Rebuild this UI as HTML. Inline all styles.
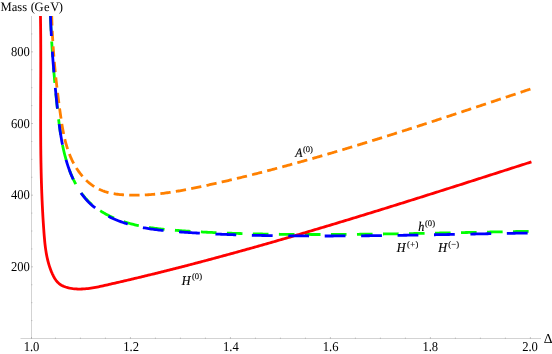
<!DOCTYPE html>
<html><head><meta charset="utf-8"><style>
html,body{margin:0;padding:0;background:#fff;}
svg{display:block;will-change:transform;font-kerning:none;text-rendering:geometricPrecision;font-family:"Liberation Serif",serif;font-size:12.6px;fill:#000;}
</style></head><body>
<svg width="552" height="354" viewBox="0 0 552 354">
<rect width="552" height="354" fill="#fff"/>
<g stroke="#a6a6a6" stroke-width="0.5" fill="none">
<line x1="20.5" y1="338.5" x2="541" y2="338.5"/>
<line x1="31.5" y1="16" x2="31.5" y2="338.5"/>
</g>
<g stroke="#8c8c8c" stroke-width="0.5" fill="none">
<line x1="31.50" y1="338.75" x2="31.50" y2="337.0"/><line x1="55.46" y1="338.75" x2="55.46" y2="337.6"/><line x1="80.45" y1="338.75" x2="80.45" y2="337.6"/><line x1="105.45" y1="338.75" x2="105.45" y2="337.6"/><line x1="130.45" y1="338.75" x2="130.45" y2="337.0"/><line x1="155.44" y1="338.75" x2="155.44" y2="337.6"/><line x1="180.44" y1="338.75" x2="180.44" y2="337.6"/><line x1="205.44" y1="338.75" x2="205.44" y2="337.6"/><line x1="230.44" y1="338.75" x2="230.44" y2="337.0"/><line x1="255.43" y1="338.75" x2="255.43" y2="337.6"/><line x1="280.43" y1="338.75" x2="280.43" y2="337.6"/><line x1="305.43" y1="338.75" x2="305.43" y2="337.6"/><line x1="330.42" y1="338.75" x2="330.42" y2="337.0"/><line x1="355.42" y1="338.75" x2="355.42" y2="337.6"/><line x1="380.42" y1="338.75" x2="380.42" y2="337.6"/><line x1="405.41" y1="338.75" x2="405.41" y2="337.6"/><line x1="430.41" y1="338.75" x2="430.41" y2="337.0"/><line x1="455.41" y1="338.75" x2="455.41" y2="337.6"/><line x1="480.41" y1="338.75" x2="480.41" y2="337.6"/><line x1="505.40" y1="338.75" x2="505.40" y2="337.6"/><line x1="530.40" y1="338.75" x2="530.40" y2="337.0"/><line x1="31.25" y1="320.58" x2="32.4" y2="320.58"/><line x1="31.25" y1="302.67" x2="32.4" y2="302.67"/><line x1="31.25" y1="284.75" x2="32.4" y2="284.75"/><line x1="31.25" y1="266.84" x2="33.0" y2="266.84"/><line x1="31.25" y1="248.93" x2="32.4" y2="248.93"/><line x1="31.25" y1="231.01" x2="32.4" y2="231.01"/><line x1="31.25" y1="213.09" x2="32.4" y2="213.09"/><line x1="31.25" y1="195.18" x2="33.0" y2="195.18"/><line x1="31.25" y1="177.26" x2="32.4" y2="177.26"/><line x1="31.25" y1="159.35" x2="32.4" y2="159.35"/><line x1="31.25" y1="141.44" x2="32.4" y2="141.44"/><line x1="31.25" y1="123.52" x2="33.0" y2="123.52"/><line x1="31.25" y1="105.60" x2="32.4" y2="105.60"/><line x1="31.25" y1="87.69" x2="32.4" y2="87.69"/><line x1="31.25" y1="69.77" x2="32.4" y2="69.77"/><line x1="31.25" y1="51.86" x2="33.0" y2="51.86"/><line x1="31.25" y1="33.94" x2="32.4" y2="33.94"/>
</g>
<clipPath id="pc"><rect x="0" y="16" width="552" height="330"/></clipPath>
<g fill="none" stroke-width="2.8" stroke-linecap="butt" stroke-linejoin="round" clip-path="url(#pc)">
<path d="M50.51,15.98 L50.56,17.27 L50.60,18.56 L50.65,19.86 L50.70,21.15 L50.75,22.45 L50.80,23.74 L50.86,25.03 L50.91,26.32 L50.97,27.61 L51.03,28.91 L51.09,30.20 L51.15,31.49 L51.22,32.78 L51.28,34.07 L51.35,35.35 L51.42,36.64 L51.49,37.93 L51.56,39.22 L51.64,40.51 L51.71,41.79 L51.79,43.08 L51.87,44.37 L51.95,45.65 L52.03,46.94 L52.11,48.23 L52.20,49.51 L52.28,50.80 L52.37,52.08 L52.46,53.37 L52.55,54.65 L52.64,55.94 L52.73,57.22 L52.83,58.50 L52.92,59.79 L53.02,61.07 L53.12,62.35 L53.21,63.64 L53.32,64.92 L53.42,66.20 L53.52,67.48 L53.62,68.76 L53.73,70.05 L53.84,71.33 L53.95,72.61 L54.05,73.89 L54.16,75.17 L54.28,76.45 L54.39,77.73 L54.50,79.02 L54.62,80.30 L54.73,81.58 L54.85,82.86 L54.97,84.14 L55.09,85.42 L55.21,86.70 L55.33,87.98 L55.45,89.26 L55.57,90.54 L55.70,91.82 L55.82,93.10 L55.95,94.38 L56.08,95.66 L56.21,96.94 L56.33,98.22 L56.46,99.50 L56.59,100.78 L56.73,102.06 L56.86,103.34 L56.99,104.62 L57.13,105.90 L57.26,107.18 L57.40,108.46 L57.53,109.74 L57.67,111.02 L57.81,112.30 L57.95,113.58 L58.09,114.86 L58.24,116.14 L58.38,117.42 L58.53,118.70 L58.68,119.98 L58.84,121.26 L58.99,122.54 L59.15,123.82 L59.32,125.09 L59.49,126.37 L59.66,127.65 L59.83,128.93 L60.02,130.20 L60.20,131.48 L60.39,132.75 L60.59,134.03 L60.79,135.30 L60.99,136.57 L61.21,137.85 L61.43,139.12 L61.65,140.39 L61.88,141.66 L62.12,142.93 L62.37,144.19 L62.62,145.45 L62.88,146.71 L63.15,147.96 L63.42,149.22 L63.71,150.47 L64.00,151.73 L64.30,152.98 L64.61,154.23 L64.93,155.48 L65.26,156.73 L65.59,157.98 L65.94,159.22 L66.30,160.46 L66.67,161.71 L67.04,162.95 L67.43,164.18 L67.83,165.42 L68.24,166.65 L68.67,167.87 L69.10,169.09 L69.55,170.31 L70.00,171.52 L70.47,172.72 L70.96,173.92 L71.45,175.12 L71.96,176.30 L72.48,177.48 L73.02,178.65 L73.56,179.81 L74.13,180.96 L74.70,182.11 L75.29,183.24 L75.90,184.37 L76.52,185.48 L77.15,186.58 L77.80,187.67 L78.47,188.75 L79.15,189.82 L79.84,190.88 L80.56,191.92 L81.28,192.95 L82.03,193.96 L82.79,194.96 L83.57,195.95 L84.37,196.92 L85.18,197.88 L86.01,198.82 L86.86,199.74 L87.73,200.65 L88.61,201.54 L89.52,202.41 L90.44,203.26 L91.37,204.10 L92.33,204.92 L93.29,205.73 L94.28,206.52 L95.28,207.29 L96.29,208.05 L97.32,208.79 L98.36,209.52 L99.41,210.23 L100.48,210.92 L101.56,211.60 L102.65,212.26 L103.75,212.91 L104.86,213.54 L105.98,214.16 L107.11,214.76 L108.25,215.35 L109.40,215.92 L110.55,216.48 L111.72,217.02 L112.89,217.55 L114.06,218.06 L115.25,218.56 L116.44,219.05 L117.63,219.52 L118.83,219.98 L120.03,220.42 L121.24,220.85 L122.45,221.27 L123.67,221.68 L124.89,222.07 L126.12,222.45 L127.34,222.81 L128.58,223.17 L129.81,223.51 L131.05,223.85 L132.29,224.17 L133.54,224.48 L134.79,224.78 L136.04,225.07 L137.30,225.35 L138.56,225.62 L139.82,225.88 L141.08,226.13 L142.35,226.37 L143.62,226.60 L144.89,226.83 L146.16,227.04 L147.44,227.25 L148.72,227.45 L150.00,227.65 L151.28,227.83 L152.56,228.01 L153.85,228.18 L155.14,228.35 L156.42,228.51 L157.71,228.66 L159.01,228.81 L160.30,228.95 L161.59,229.09 L162.89,229.22 L164.18,229.35 L165.48,229.47 L166.77,229.59 L168.07,229.70 L169.37,229.81 L170.67,229.92 L171.96,230.03 L173.26,230.13 L174.56,230.23 L175.86,230.33 L177.16,230.42 L178.45,230.51 L179.75,230.61 L181.05,230.70 L182.34,230.79 L183.64,230.87 L184.93,230.96 L186.23,231.04 L187.52,231.13 L188.82,231.21 L190.11,231.29 L191.40,231.37 L192.70,231.45 L193.99,231.53 L195.28,231.60 L196.57,231.68 L197.86,231.75 L199.16,231.82 L200.45,231.89 L201.74,231.96 L203.03,232.03 L204.32,232.09 L205.61,232.16 L206.89,232.23 L208.18,232.29 L209.47,232.35 L210.76,232.41 L212.05,232.47 L213.34,232.53 L214.62,232.59 L215.91,232.64 L217.20,232.70 L218.48,232.75 L219.77,232.81 L221.06,232.86 L222.34,232.91 L223.63,232.96 L224.91,233.01 L226.20,233.06 L227.48,233.10 L228.77,233.15 L230.05,233.19 L231.34,233.24 L232.62,233.28 L233.91,233.32 L235.19,233.36 L236.48,233.40 L237.76,233.44 L239.04,233.48 L240.33,233.52 L241.61,233.55 L242.90,233.59 L244.18,233.62 L245.46,233.66 L246.75,233.69 L248.03,233.72 L249.31,233.75 L250.60,233.78 L251.88,233.81 L253.16,233.84 L254.45,233.87 L255.73,233.90 L257.01,233.92 L258.30,233.95 L259.58,233.97 L260.86,234.00 L262.15,234.02 L263.43,234.04 L264.71,234.07 L266.00,234.09 L267.28,234.11 L268.56,234.13 L269.85,234.15 L271.13,234.17 L272.41,234.18 L273.70,234.20 L274.98,234.22 L276.27,234.24 L277.55,234.25 L278.83,234.27 L280.12,234.28 L281.40,234.29 L282.69,234.31 L283.97,234.32 L285.26,234.33 L286.54,234.35 L287.83,234.36 L289.11,234.37 L290.40,234.38 L291.69,234.39 L292.97,234.40 L294.26,234.41 L295.54,234.41 L296.83,234.42 L298.12,234.43 L299.40,234.44 L300.69,234.44 L301.98,234.45 L303.26,234.45 L304.55,234.46 L305.84,234.46 L307.13,234.47 L308.41,234.47 L309.70,234.47 L310.99,234.48 L312.28,234.48 L313.56,234.48 L314.85,234.48 L316.14,234.48 L317.43,234.48 L318.72,234.48 L320.01,234.48 L321.29,234.48 L322.58,234.48 L323.87,234.48 L325.16,234.47 L326.45,234.47 L327.74,234.47 L329.03,234.46 L330.32,234.46 L331.61,234.46 L332.89,234.45 L334.18,234.45 L335.47,234.44 L336.76,234.43 L338.05,234.43 L339.34,234.42 L340.63,234.41 L341.92,234.41 L343.21,234.40 L344.50,234.39 L345.79,234.38 L347.08,234.37 L348.37,234.36 L349.66,234.35 L350.95,234.34 L352.24,234.33 L353.53,234.32 L354.82,234.31 L356.11,234.30 L357.41,234.29 L358.70,234.28 L359.99,234.26 L361.28,234.25 L362.57,234.24 L363.86,234.23 L365.15,234.21 L366.44,234.20 L367.73,234.18 L369.02,234.17 L370.31,234.15 L371.60,234.14 L372.90,234.12 L374.19,234.11 L375.48,234.09 L376.77,234.08 L378.06,234.06 L379.35,234.04 L380.64,234.03 L381.93,234.01 L383.23,233.99 L384.52,233.97 L385.81,233.96 L387.10,233.94 L388.39,233.92 L389.68,233.90 L390.97,233.88 L392.27,233.86 L393.56,233.84 L394.85,233.82 L396.14,233.80 L397.43,233.78 L398.72,233.76 L400.01,233.74 L401.31,233.72 L402.60,233.70 L403.89,233.68 L405.18,233.66 L406.47,233.64 L407.76,233.61 L409.05,233.59 L410.35,233.57 L411.64,233.55 L412.93,233.53 L414.22,233.50 L415.51,233.48 L416.80,233.46 L418.09,233.44 L419.38,233.41 L420.68,233.39 L421.97,233.37 L423.26,233.34 L424.55,233.32 L425.84,233.29 L427.13,233.27 L428.42,233.25 L429.71,233.22 L431.00,233.20 L432.30,233.17 L433.59,233.15 L434.88,233.12 L436.17,233.10 L437.46,233.07 L438.75,233.05 L440.04,233.02 L441.33,233.00 L442.62,232.97 L443.91,232.95 L445.20,232.92 L446.49,232.90 L447.78,232.87 L449.07,232.85 L450.36,232.82 L451.65,232.80 L452.94,232.77 L454.23,232.74 L455.52,232.72 L456.81,232.69 L458.10,232.67 L459.39,232.64 L460.68,232.61 L461.97,232.59 L463.26,232.56 L464.55,232.54 L465.84,232.51 L467.13,232.48 L468.42,232.46 L469.71,232.43 L471.00,232.41 L472.28,232.38 L473.57,232.35 L474.86,232.33 L476.15,232.30 L477.44,232.28 L478.73,232.25 L480.02,232.22 L481.30,232.20 L482.59,232.17 L483.88,232.15 L485.17,232.12 L486.46,232.10 L487.74,232.07 L489.03,232.04 L490.32,232.02 L491.61,231.99 L492.89,231.97 L494.18,231.94 L495.47,231.92 L496.75,231.89 L498.04,231.87 L499.33,231.84 L500.61,231.82 L501.90,231.79 L503.19,231.77 L504.47,231.74 L505.76,231.72 L507.04,231.69 L508.33,231.67 L509.62,231.64 L510.90,231.62 L512.19,231.60 L513.47,231.57 L514.76,231.55 L516.04,231.52 L517.33,231.50 L518.61,231.48 L519.89,231.45 L521.18,231.43 L522.46,231.41 L523.75,231.38 L525.03,231.36 L526.31,231.34 L527.60,231.32 L528.88,231.30 L530.16,231.27 L531.45,231.25" stroke="#00ff00" stroke-dasharray="15.6 10.42" stroke-dashoffset="0.5"/>
<path d="M51.74,15.92 L51.77,17.22 L51.80,18.51 L51.84,19.80 L51.88,21.09 L51.92,22.38 L51.97,23.67 L52.01,24.95 L52.06,26.24 L52.12,27.52 L52.17,28.80 L52.22,30.08 L52.28,31.36 L52.34,32.64 L52.41,33.91 L52.47,35.19 L52.54,36.46 L52.61,37.74 L52.68,39.01 L52.75,40.28 L52.83,41.55 L52.90,42.82 L52.98,44.09 L53.07,45.36 L53.15,46.62 L53.24,47.89 L53.32,49.16 L53.42,50.42 L53.51,51.68 L53.60,52.95 L53.70,54.21 L53.80,55.47 L53.90,56.73 L54.00,57.99 L54.10,59.26 L54.21,60.52 L54.32,61.78 L54.43,63.03 L54.54,64.29 L54.66,65.55 L54.77,66.81 L54.89,68.07 L55.01,69.33 L55.13,70.58 L55.26,71.84 L55.38,73.10 L55.51,74.36 L55.64,75.61 L55.77,76.87 L55.90,78.13 L56.03,79.39 L56.17,80.64 L56.31,81.90 L56.45,83.16 L56.59,84.42 L56.73,85.68 L56.88,86.93 L57.03,88.19 L57.17,89.45 L57.32,90.71 L57.48,91.97 L57.63,93.23 L57.78,94.49 L57.94,95.75 L58.10,97.01 L58.26,98.28 L58.42,99.54 L58.58,100.80 L58.75,102.06 L58.91,103.33 L59.08,104.59 L59.25,105.86 L59.42,107.13 L59.59,108.39 L59.77,109.66 L59.94,110.93 L60.12,112.20 L60.30,113.47 L60.48,114.75 L60.66,116.02 L60.84,117.29 L61.03,118.57 L61.22,119.84 L61.41,121.11 L61.61,122.39 L61.81,123.66 L62.01,124.93 L62.23,126.20 L62.44,127.47 L62.67,128.74 L62.90,130.01 L63.14,131.27 L63.38,132.53 L63.63,133.79 L63.90,135.05 L64.17,136.30 L64.45,137.55 L64.74,138.80 L65.04,140.05 L65.35,141.29 L65.67,142.52 L66.00,143.75 L66.35,144.98 L66.71,146.20 L67.08,147.42 L67.46,148.63 L67.86,149.84 L68.27,151.04 L68.70,152.24 L69.14,153.43 L69.60,154.61 L70.08,155.78 L70.57,156.95 L71.08,158.12 L71.60,159.27 L72.14,160.42 L72.71,161.56 L73.29,162.69 L73.89,163.81 L74.50,164.93 L75.14,166.03 L75.80,167.12 L76.47,168.21 L77.17,169.28 L77.88,170.34 L78.61,171.38 L79.36,172.41 L80.13,173.43 L80.92,174.42 L81.73,175.41 L82.55,176.37 L83.39,177.32 L84.25,178.24 L85.12,179.15 L86.02,180.04 L86.93,180.90 L87.86,181.75 L88.81,182.57 L89.77,183.36 L90.75,184.13 L91.75,184.88 L92.76,185.60 L93.79,186.29 L94.84,186.95 L95.90,187.59 L96.98,188.20 L98.08,188.77 L99.19,189.32 L100.32,189.83 L101.46,190.31 L102.62,190.77 L103.79,191.19 L104.98,191.59 L106.18,191.96 L107.38,192.30 L108.60,192.62 L109.83,192.92 L111.07,193.19 L112.32,193.44 L113.57,193.67 L114.84,193.88 L116.11,194.07 L117.38,194.24 L118.66,194.39 L119.94,194.53 L121.23,194.65 L122.52,194.75 L123.81,194.85 L125.11,194.93 L126.40,194.99 L127.70,195.05 L128.99,195.09 L130.28,195.13 L131.58,195.16 L132.87,195.17 L134.15,195.18 L135.44,195.18 L136.73,195.18 L138.01,195.16 L139.29,195.13 L140.57,195.10 L141.85,195.06 L143.13,195.01 L144.41,194.95 L145.69,194.89 L146.96,194.82 L148.23,194.74 L149.51,194.65 L150.78,194.56 L152.05,194.46 L153.32,194.35 L154.59,194.24 L155.85,194.12 L157.12,193.99 L158.39,193.86 L159.65,193.72 L160.91,193.57 L162.18,193.42 L163.44,193.27 L164.70,193.10 L165.96,192.94 L167.22,192.76 L168.47,192.59 L169.73,192.40 L170.99,192.22 L172.24,192.02 L173.50,191.83 L174.75,191.62 L176.01,191.42 L177.26,191.21 L178.51,191.00 L179.76,190.78 L181.01,190.56 L182.26,190.33 L183.51,190.10 L184.76,189.87 L186.01,189.64 L187.26,189.40 L188.51,189.16 L189.75,188.91 L191.00,188.67 L192.25,188.42 L193.49,188.17 L194.74,187.91 L195.98,187.66 L197.23,187.40 L198.47,187.14 L199.72,186.88 L200.96,186.62 L202.21,186.35 L203.45,186.09 L204.70,185.82 L205.94,185.55 L207.18,185.28 L208.42,185.01 L209.67,184.74 L210.91,184.47 L212.15,184.19 L213.39,183.92 L214.64,183.64 L215.88,183.36 L217.12,183.09 L218.36,182.80 L219.60,182.52 L220.84,182.24 L222.08,181.96 L223.32,181.67 L224.56,181.38 L225.80,181.10 L227.04,180.81 L228.28,180.52 L229.52,180.23 L230.76,179.94 L232.00,179.64 L233.24,179.35 L234.48,179.05 L235.71,178.76 L236.95,178.46 L238.19,178.16 L239.43,177.86 L240.66,177.56 L241.90,177.26 L243.14,176.96 L244.37,176.65 L245.61,176.35 L246.85,176.04 L248.08,175.73 L249.32,175.43 L250.55,175.12 L251.79,174.81 L253.02,174.50 L254.26,174.19 L255.49,173.88 L256.73,173.56 L257.96,173.25 L259.19,172.93 L260.43,172.62 L261.66,172.30 L262.89,171.98 L264.13,171.66 L265.36,171.35 L266.59,171.03 L267.82,170.70 L269.05,170.38 L270.29,170.06 L271.52,169.74 L272.75,169.41 L273.98,169.09 L275.21,168.76 L276.44,168.44 L277.67,168.11 L278.90,167.78 L280.13,167.45 L281.36,167.12 L282.59,166.79 L283.82,166.46 L285.05,166.13 L286.27,165.79 L287.50,165.46 L288.73,165.13 L289.96,164.79 L291.19,164.45 L292.41,164.12 L293.64,163.78 L294.87,163.44 L296.10,163.10 L297.32,162.76 L298.55,162.42 L299.77,162.08 L301.00,161.74 L302.23,161.40 L303.45,161.05 L304.68,160.71 L305.90,160.37 L307.13,160.02 L308.35,159.67 L309.58,159.33 L310.80,158.98 L312.03,158.63 L313.25,158.28 L314.47,157.93 L315.70,157.58 L316.92,157.23 L318.14,156.88 L319.37,156.53 L320.59,156.18 L321.81,155.82 L323.03,155.47 L324.26,155.11 L325.48,154.76 L326.70,154.40 L327.92,154.05 L329.14,153.69 L330.37,153.33 L331.59,152.97 L332.81,152.61 L334.03,152.25 L335.25,151.89 L336.47,151.53 L337.69,151.17 L338.91,150.81 L340.13,150.45 L341.35,150.08 L342.57,149.72 L343.79,149.36 L345.01,148.99 L346.23,148.63 L347.45,148.26 L348.67,147.89 L349.89,147.53 L351.10,147.16 L352.32,146.79 L353.54,146.42 L354.76,146.05 L355.98,145.68 L357.19,145.31 L358.41,144.94 L359.63,144.57 L360.85,144.20 L362.06,143.82 L363.28,143.45 L364.50,143.08 L365.71,142.70 L366.93,142.33 L368.15,141.96 L369.36,141.58 L370.58,141.20 L371.80,140.83 L373.01,140.45 L374.23,140.07 L375.44,139.70 L376.66,139.32 L377.87,138.94 L379.09,138.56 L380.30,138.18 L381.52,137.80 L382.73,137.42 L383.95,137.04 L385.16,136.66 L386.38,136.28 L387.59,135.90 L388.81,135.51 L390.02,135.13 L391.23,134.75 L392.45,134.36 L393.66,133.98 L394.87,133.59 L396.09,133.21 L397.30,132.82 L398.51,132.44 L399.73,132.05 L400.94,131.67 L402.15,131.28 L403.37,130.89 L404.58,130.51 L405.79,130.12 L407.00,129.73 L408.22,129.34 L409.43,128.95 L410.64,128.56 L411.85,128.17 L413.06,127.78 L414.28,127.39 L415.49,127.00 L416.70,126.61 L417.91,126.22 L419.12,125.83 L420.33,125.44 L421.54,125.05 L422.76,124.65 L423.97,124.26 L425.18,123.87 L426.39,123.48 L427.60,123.08 L428.81,122.69 L430.02,122.29 L431.23,121.90 L432.44,121.51 L433.65,121.11 L434.86,120.72 L436.07,120.32 L437.28,119.93 L438.49,119.53 L439.70,119.13 L440.91,118.74 L442.12,118.34 L443.33,117.94 L444.54,117.55 L445.75,117.15 L446.96,116.75 L448.17,116.36 L449.38,115.96 L450.59,115.56 L451.80,115.16 L453.01,114.76 L454.22,114.37 L455.42,113.97 L456.63,113.57 L457.84,113.17 L459.05,112.77 L460.26,112.37 L461.47,111.97 L462.68,111.57 L463.89,111.17 L465.09,110.77 L466.30,110.37 L467.51,109.97 L468.72,109.57 L469.93,109.17 L471.14,108.77 L472.34,108.37 L473.55,107.97 L474.76,107.57 L475.97,107.17 L477.18,106.77 L478.38,106.37 L479.59,105.97 L480.80,105.56 L482.01,105.16 L483.22,104.76 L484.42,104.36 L485.63,103.96 L486.84,103.56 L488.05,103.15 L489.26,102.75 L490.46,102.35 L491.67,101.95 L492.88,101.55 L494.09,101.14 L495.29,100.74 L496.50,100.34 L497.71,99.94 L498.92,99.54 L500.12,99.13 L501.33,98.73 L502.54,98.33 L503.75,97.93 L504.95,97.53 L506.16,97.12 L507.37,96.72 L508.58,96.32 L509.78,95.92 L510.99,95.51 L512.20,95.11 L513.40,94.71 L514.61,94.31 L515.82,93.91 L517.03,93.50 L518.23,93.10 L519.44,92.70 L520.65,92.30 L521.86,91.90 L523.06,91.49 L524.27,91.09 L525.48,90.69 L526.68,90.29 L527.89,89.89 L529.10,89.49 L530.31,89.09 L531.51,88.68" stroke="#ff8000" stroke-dasharray="10.35 5.26" stroke-dashoffset="0.8"/>
<path d="M40.43,13.98 L40.46,15.52 L40.48,17.06 L40.51,18.59 L40.53,20.13 L40.55,21.66 L40.57,23.20 L40.59,24.73 L40.61,26.27 L40.63,27.80 L40.64,29.34 L40.66,30.87 L40.67,32.40 L40.68,33.94 L40.70,35.47 L40.71,37.01 L40.72,38.54 L40.73,40.07 L40.73,41.61 L40.74,43.14 L40.75,44.68 L40.75,46.21 L40.76,47.74 L40.76,49.28 L40.77,50.81 L40.77,52.34 L40.77,53.87 L40.77,55.41 L40.78,56.94 L40.78,58.47 L40.78,60.01 L40.78,61.54 L40.77,63.07 L40.77,64.60 L40.77,66.14 L40.77,67.67 L40.77,69.20 L40.76,70.73 L40.76,72.26 L40.76,73.80 L40.75,75.33 L40.75,76.86 L40.74,78.39 L40.74,79.92 L40.73,81.46 L40.73,82.99 L40.72,84.52 L40.72,86.05 L40.71,87.58 L40.71,89.11 L40.70,90.65 L40.70,92.18 L40.69,93.71 L40.69,95.24 L40.68,96.77 L40.68,98.30 L40.68,99.83 L40.67,101.36 L40.67,102.90 L40.66,104.43 L40.66,105.96 L40.66,107.49 L40.65,109.02 L40.65,110.55 L40.65,112.08 L40.65,113.61 L40.65,115.14 L40.65,116.68 L40.64,118.21 L40.64,119.74 L40.65,121.27 L40.65,122.80 L40.65,124.33 L40.65,125.86 L40.65,127.39 L40.66,128.92 L40.66,130.45 L40.67,131.98 L40.67,133.51 L40.68,135.05 L40.69,136.58 L40.70,138.11 L40.71,139.64 L40.72,141.17 L40.73,142.70 L40.74,144.23 L40.75,145.76 L40.77,147.29 L40.78,148.82 L40.80,150.35 L40.82,151.88 L40.83,153.41 L40.85,154.95 L40.88,156.48 L40.90,158.01 L40.92,159.54 L40.94,161.07 L40.97,162.60 L41.00,164.13 L41.03,165.66 L41.06,167.19 L41.09,168.73 L41.12,170.26 L41.15,171.79 L41.19,173.32 L41.23,174.85 L41.26,176.38 L41.30,177.91 L41.35,179.44 L41.39,180.98 L41.43,182.51 L41.48,184.04 L41.53,185.57 L41.58,187.10 L41.63,188.63 L41.68,190.17 L41.74,191.70 L41.80,193.23 L41.86,194.76 L41.92,196.29 L41.98,197.83 L42.04,199.36 L42.11,200.89 L42.18,202.42 L42.25,203.95 L42.32,205.49 L42.40,207.02 L42.47,208.55 L42.55,210.08 L42.64,211.62 L42.72,213.15 L42.80,214.68 L42.89,216.22 L42.98,217.75 L43.07,219.28 L43.17,220.81 L43.27,222.35 L43.37,223.88 L43.47,225.41 L43.57,226.95 L43.68,228.48 L43.79,230.02 L43.90,231.55 L44.01,233.08 L44.13,234.62 L44.25,236.15 L44.38,237.68 L44.52,239.21 L44.66,240.75 L44.81,242.27 L44.97,243.80 L45.15,245.33 L45.33,246.85 L45.53,248.37 L45.75,249.89 L45.98,251.40 L46.23,252.91 L46.50,254.42 L46.79,255.93 L47.10,257.43 L47.43,258.92 L47.78,260.41 L48.16,261.89 L48.57,263.37 L49.00,264.85 L49.46,266.32 L49.95,267.78 L50.47,269.23 L51.02,270.68 L51.60,272.12 L52.22,273.56 L52.87,274.98 L53.57,276.38 L54.32,277.74 L55.13,279.05 L55.99,280.30 L56.93,281.48 L57.94,282.57 L59.03,283.56 L60.20,284.44 L61.46,285.22 L62.77,285.91 L64.15,286.50 L65.56,287.02 L67.01,287.46 L68.48,287.84 L69.96,288.16 L71.44,288.43 L72.92,288.65 L74.41,288.82 L75.90,288.94 L77.40,289.02 L78.90,289.06 L80.40,289.06 L81.90,289.02 L83.41,288.95 L84.92,288.84 L86.43,288.70 L87.94,288.54 L89.45,288.35 L90.97,288.13 L92.48,287.89 L94.00,287.63 L95.51,287.35 L97.03,287.06 L98.55,286.76 L100.07,286.44 L101.59,286.11 L103.10,285.78 L104.62,285.44 L106.14,285.10 L107.65,284.76 L109.16,284.42 L110.68,284.07 L112.19,283.73 L113.70,283.38 L115.21,283.04 L116.72,282.69 L118.23,282.34 L119.74,282.00 L121.24,281.65 L122.75,281.30 L124.26,280.95 L125.76,280.59 L127.26,280.24 L128.77,279.89 L130.27,279.54 L131.77,279.18 L133.27,278.83 L134.77,278.47 L136.27,278.11 L137.77,277.75 L139.27,277.40 L140.76,277.04 L142.26,276.68 L143.75,276.32 L145.25,275.95 L146.74,275.59 L148.24,275.23 L149.73,274.86 L151.22,274.50 L152.71,274.13 L154.20,273.77 L155.69,273.40 L157.18,273.03 L158.67,272.66 L160.16,272.29 L161.65,271.92 L163.14,271.55 L164.62,271.18 L166.11,270.81 L167.60,270.44 L169.08,270.06 L170.57,269.69 L172.05,269.31 L173.53,268.94 L175.02,268.56 L176.50,268.18 L177.98,267.80 L179.46,267.42 L180.95,267.04 L182.43,266.66 L183.91,266.28 L185.39,265.90 L186.87,265.52 L188.35,265.13 L189.83,264.75 L191.30,264.37 L192.78,263.98 L194.26,263.59 L195.74,263.21 L197.22,262.82 L198.69,262.43 L200.17,262.04 L201.65,261.65 L203.12,261.26 L204.60,260.87 L206.07,260.48 L207.55,260.08 L209.02,259.69 L210.50,259.30 L211.97,258.90 L213.45,258.51 L214.92,258.11 L216.40,257.71 L217.87,257.32 L219.34,256.92 L220.82,256.52 L222.29,256.12 L223.76,255.72 L225.24,255.32 L226.71,254.92 L228.18,254.51 L229.66,254.11 L231.13,253.71 L232.60,253.30 L234.08,252.90 L235.55,252.49 L237.02,252.09 L238.49,251.68 L239.97,251.27 L241.44,250.86 L242.91,250.46 L244.38,250.05 L245.86,249.64 L247.33,249.22 L248.80,248.81 L250.27,248.40 L251.74,247.99 L253.22,247.58 L254.69,247.16 L256.16,246.75 L257.63,246.33 L259.10,245.92 L260.58,245.50 L262.05,245.08 L263.52,244.66 L264.99,244.25 L266.46,243.83 L267.93,243.41 L269.41,242.99 L270.88,242.57 L272.35,242.15 L273.82,241.72 L275.29,241.30 L276.76,240.88 L278.23,240.46 L279.71,240.03 L281.18,239.61 L282.65,239.18 L284.12,238.76 L285.59,238.33 L287.06,237.90 L288.53,237.48 L290.00,237.05 L291.47,236.62 L292.94,236.19 L294.41,235.76 L295.88,235.33 L297.35,234.90 L298.83,234.47 L300.30,234.04 L301.77,233.61 L303.24,233.17 L304.71,232.74 L306.18,232.31 L307.65,231.87 L309.12,231.44 L310.59,231.01 L312.06,230.57 L313.53,230.13 L314.99,229.70 L316.46,229.26 L317.93,228.82 L319.40,228.39 L320.87,227.95 L322.34,227.51 L323.81,227.07 L325.28,226.63 L326.75,226.19 L328.22,225.75 L329.69,225.31 L331.16,224.87 L332.62,224.43 L334.09,223.98 L335.56,223.54 L337.03,223.10 L338.50,222.65 L339.97,222.21 L341.44,221.77 L342.90,221.32 L344.37,220.88 L345.84,220.43 L347.31,219.99 L348.78,219.54 L350.24,219.09 L351.71,218.65 L353.18,218.20 L354.65,217.75 L356.11,217.30 L357.58,216.85 L359.05,216.40 L360.52,215.96 L361.98,215.51 L363.45,215.06 L364.92,214.61 L366.38,214.15 L367.85,213.70 L369.32,213.25 L370.78,212.80 L372.25,212.35 L373.72,211.90 L375.18,211.44 L376.65,210.99 L378.11,210.54 L379.58,210.08 L381.05,209.63 L382.51,209.18 L383.98,208.72 L385.44,208.27 L386.91,207.81 L388.37,207.36 L389.84,206.90 L391.30,206.44 L392.77,205.99 L394.23,205.53 L395.70,205.07 L397.16,204.62 L398.63,204.16 L400.09,203.70 L401.56,203.24 L403.02,202.79 L404.49,202.33 L405.95,201.87 L407.42,201.41 L408.88,200.95 L410.34,200.49 L411.81,200.03 L413.27,199.57 L414.73,199.11 L416.20,198.65 L417.66,198.19 L419.12,197.73 L420.59,197.27 L422.05,196.81 L423.51,196.35 L424.98,195.88 L426.44,195.42 L427.90,194.96 L429.36,194.50 L430.83,194.03 L432.29,193.57 L433.75,193.11 L435.21,192.65 L436.68,192.18 L438.14,191.72 L439.60,191.26 L441.06,190.79 L442.52,190.33 L443.98,189.86 L445.44,189.40 L446.91,188.94 L448.37,188.47 L449.83,188.01 L451.29,187.54 L452.75,187.08 L454.21,186.61 L455.67,186.15 L457.13,185.68 L458.59,185.22 L460.05,184.75 L461.51,184.29 L462.97,183.82 L464.43,183.35 L465.89,182.89 L467.35,182.42 L468.81,181.96 L470.27,181.49 L471.73,181.02 L473.18,180.56 L474.64,180.09 L476.10,179.62 L477.56,179.16 L479.02,178.69 L480.48,178.22 L481.94,177.76 L483.39,177.29 L484.85,176.82 L486.31,176.36 L487.77,175.89 L489.22,175.42 L490.68,174.96 L492.14,174.49 L493.60,174.02 L495.05,173.55 L496.51,173.09 L497.97,172.62 L499.42,172.15 L500.88,171.68 L502.34,171.22 L503.79,170.75 L505.25,170.28 L506.70,169.81 L508.16,169.35 L509.61,168.88 L511.07,168.41 L512.53,167.94 L513.98,167.48 L515.44,167.01 L516.89,166.54 L518.34,166.08 L519.80,165.61 L521.25,165.14 L522.71,164.67 L524.16,164.21 L525.62,163.74 L527.07,163.27 L528.52,162.81 L529.98,162.34 L531.43,161.87" stroke="#ff0000"/>
<path d="M50.51,15.98 L50.56,17.27 L50.60,18.56 L50.65,19.86 L50.70,21.15 L50.75,22.45 L50.80,23.74 L50.86,25.03 L50.91,26.32 L50.97,27.61 L51.03,28.91 L51.09,30.20 L51.15,31.49 L51.22,32.78 L51.28,34.07 L51.35,35.35 L51.42,36.64 L51.49,37.93 L51.56,39.22 L51.64,40.51 L51.71,41.79 L51.79,43.08 L51.87,44.37 L51.95,45.65 L52.03,46.94 L52.11,48.23 L52.20,49.51 L52.28,50.80 L52.37,52.08 L52.46,53.37 L52.55,54.65 L52.64,55.94 L52.73,57.22 L52.83,58.50 L52.92,59.79 L53.02,61.07 L53.12,62.35 L53.21,63.64 L53.32,64.92 L53.42,66.20 L53.52,67.48 L53.62,68.76 L53.73,70.05 L53.84,71.33 L53.95,72.61 L54.05,73.89 L54.16,75.17 L54.28,76.45 L54.39,77.73 L54.50,79.02 L54.62,80.30 L54.73,81.58 L54.85,82.86 L54.97,84.14 L55.09,85.42 L55.21,86.70 L55.33,87.98 L55.45,89.26 L55.57,90.54 L55.70,91.82 L55.82,93.10 L55.95,94.38 L56.08,95.66 L56.21,96.94 L56.33,98.22 L56.46,99.50 L56.59,100.78 L56.73,102.06 L56.86,103.34 L56.99,104.62 L57.13,105.90 L57.26,107.18 L57.40,108.46 L57.53,109.74 L57.67,111.02 L57.81,112.30 L57.95,113.58 L58.09,114.86 L58.24,116.14 L58.38,117.42 L58.53,118.70 L58.68,119.98 L58.84,121.26 L58.99,122.54 L59.15,123.82 L59.32,125.09 L59.49,126.37 L59.66,127.65 L59.83,128.93 L60.02,130.20 L60.20,131.48 L60.39,132.75 L60.59,134.03 L60.79,135.30 L60.99,136.57 L61.21,137.85 L61.43,139.12 L61.65,140.39 L61.88,141.66 L62.12,142.93 L62.37,144.20 L62.62,145.46 L62.88,146.73 L63.15,148.00 L63.42,149.26 L63.71,150.52 L64.00,151.79 L64.30,153.05 L64.61,154.31 L64.93,155.57 L65.26,156.82 L65.59,158.08 L65.94,159.33 L66.30,160.59 L66.67,161.84 L67.04,163.09 L67.43,164.34 L67.83,165.58 L68.24,166.82 L68.67,168.06 L69.10,169.29 L69.55,170.52 L70.00,171.74 L70.47,172.96 L70.96,174.17 L71.45,175.37 L71.96,176.57 L72.48,177.76 L73.02,178.94 L73.56,180.12 L74.13,181.28 L74.70,182.44 L75.29,183.59 L75.90,184.72 L76.52,185.85 L77.15,186.97 L77.80,188.07 L78.47,189.17 L79.15,190.25 L79.84,191.32 L80.56,192.37 L81.28,193.42 L82.03,194.45 L82.79,195.46 L83.57,196.46 L84.37,197.45 L85.18,198.42 L86.01,199.37 L86.86,200.31 L87.73,201.23 L88.61,202.14 L89.52,203.03 L90.44,203.90 L91.37,204.75 L92.33,205.59 L93.29,206.41 L94.28,207.21 L95.28,208.00 L96.29,208.77 L97.32,209.53 L98.36,210.27 L99.41,210.99 L100.48,211.70 L101.56,212.39 L102.65,213.07 L103.75,213.73 L104.86,214.38 L105.98,215.01 L107.11,215.62 L108.25,216.22 L109.40,216.81 L110.55,217.38 L111.72,217.93 L112.89,218.47 L114.06,219.00 L115.25,219.51 L116.44,220.01 L117.63,220.49 L118.83,220.96 L120.03,221.41 L121.24,221.86 L122.45,222.28 L123.67,222.70 L124.89,223.10 L126.12,223.49 L127.34,223.87 L128.58,224.23 L129.81,224.58 L131.05,224.93 L132.29,225.26 L133.54,225.57 L134.79,225.88 L136.04,226.18 L137.30,226.47 L138.56,226.75 L139.82,227.01 L141.08,227.27 L142.35,227.52 L143.62,227.76 L144.89,227.99 L146.16,228.22 L147.44,228.43 L148.72,228.64 L150.00,228.84 L151.28,229.03 L152.56,229.21 L153.85,229.39 L155.14,229.56 L156.42,229.73 L157.71,229.89 L159.01,230.04 L160.30,230.19 L161.59,230.33 L162.89,230.47 L164.18,230.60 L165.48,230.73 L166.77,230.85 L168.07,230.97 L169.37,231.09 L170.67,231.20 L171.96,231.31 L173.26,231.41 L174.56,231.52 L175.86,231.62 L177.16,231.72 L178.45,231.82 L179.75,231.91 L181.05,232.01 L182.34,232.10 L183.64,232.19 L184.93,232.28 L186.23,232.37 L187.52,232.45 L188.82,232.54 L190.11,232.62 L191.40,232.71 L192.70,232.79 L193.99,232.87 L195.28,232.95 L196.57,233.02 L197.86,233.10 L199.16,233.18 L200.45,233.25 L201.74,233.32 L203.03,233.39 L204.32,233.46 L205.61,233.53 L206.89,233.60 L208.18,233.66 L209.47,233.73 L210.76,233.79 L212.05,233.85 L213.34,233.91 L214.62,233.97 L215.91,234.03 L217.20,234.09 L218.48,234.15 L219.77,234.20 L221.06,234.26 L222.34,234.31 L223.63,234.36 L224.91,234.41 L226.20,234.46 L227.48,234.51 L228.77,234.56 L230.05,234.61 L231.34,234.65 L232.62,234.70 L233.91,234.74 L235.19,234.78 L236.48,234.82 L237.76,234.87 L239.04,234.91 L240.33,234.94 L241.61,234.98 L242.90,235.02 L244.18,235.06 L245.46,235.09 L246.75,235.13 L248.03,235.16 L249.31,235.19 L250.60,235.22 L251.88,235.26 L253.16,235.29 L254.45,235.32 L255.73,235.34 L257.01,235.37 L258.30,235.40 L259.58,235.43 L260.86,235.45 L262.15,235.48 L263.43,235.50 L264.71,235.52 L266.00,235.55 L267.28,235.57 L268.56,235.59 L269.85,235.61 L271.13,235.63 L272.41,235.65 L273.70,235.67 L274.98,235.69 L276.27,235.71 L277.55,235.72 L278.83,235.74 L280.12,235.76 L281.40,235.77 L282.69,235.79 L283.97,235.80 L285.26,235.81 L286.54,235.83 L287.83,235.84 L289.11,235.85 L290.40,235.86 L291.69,235.88 L292.97,235.89 L294.26,235.90 L295.54,235.91 L296.83,235.92 L298.12,235.92 L299.40,235.93 L300.69,235.94 L301.98,235.95 L303.26,235.95 L304.55,235.96 L305.84,235.97 L307.13,235.97 L308.41,235.97 L309.70,235.98 L310.99,235.98 L312.28,235.99 L313.56,235.99 L314.85,235.99 L316.14,235.99 L317.43,235.99 L318.72,236.00 L320.01,236.00 L321.29,236.00 L322.58,236.00 L323.87,236.00 L325.16,235.99 L326.45,235.99 L327.74,235.99 L329.03,235.99 L330.32,235.99 L331.61,235.98 L332.89,235.98 L334.18,235.97 L335.47,235.97 L336.76,235.97 L338.05,235.96 L339.34,235.95 L340.63,235.95 L341.92,235.94 L343.21,235.94 L344.50,235.93 L345.79,235.92 L347.08,235.91 L348.37,235.91 L349.66,235.90 L350.95,235.89 L352.24,235.88 L353.53,235.87 L354.82,235.86 L356.11,235.85 L357.41,235.84 L358.70,235.83 L359.99,235.82 L361.28,235.80 L362.57,235.79 L363.86,235.78 L365.15,235.77 L366.44,235.76 L367.73,235.74 L369.02,235.73 L370.31,235.72 L371.60,235.70 L372.90,235.69 L374.19,235.67 L375.48,235.66 L376.77,235.64 L378.06,235.63 L379.35,235.61 L380.64,235.60 L381.93,235.58 L383.23,235.56 L384.52,235.55 L385.81,235.53 L387.10,235.51 L388.39,235.50 L389.68,235.48 L390.97,235.46 L392.27,235.44 L393.56,235.42 L394.85,235.41 L396.14,235.39 L397.43,235.37 L398.72,235.35 L400.01,235.33 L401.31,235.31 L402.60,235.29 L403.89,235.27 L405.18,235.25 L406.47,235.23 L407.76,235.21 L409.05,235.19 L410.35,235.17 L411.64,235.15 L412.93,235.12 L414.22,235.10 L415.51,235.08 L416.80,235.06 L418.09,235.04 L419.38,235.02 L420.68,234.99 L421.97,234.97 L423.26,234.95 L424.55,234.93 L425.84,234.90 L427.13,234.88 L428.42,234.86 L429.71,234.83 L431.00,234.81 L432.30,234.79 L433.59,234.76 L434.88,234.74 L436.17,234.72 L437.46,234.69 L438.75,234.67 L440.04,234.65 L441.33,234.62 L442.62,234.60 L443.91,234.57 L445.20,234.55 L446.49,234.53 L447.78,234.50 L449.07,234.48 L450.36,234.45 L451.65,234.43 L452.94,234.40 L454.23,234.38 L455.52,234.35 L456.81,234.33 L458.10,234.30 L459.39,234.28 L460.68,234.25 L461.97,234.23 L463.26,234.20 L464.55,234.18 L465.84,234.15 L467.13,234.13 L468.42,234.10 L469.71,234.08 L471.00,234.05 L472.28,234.03 L473.57,234.00 L474.86,233.98 L476.15,233.95 L477.44,233.93 L478.73,233.90 L480.02,233.88 L481.30,233.86 L482.59,233.83 L483.88,233.81 L485.17,233.78 L486.46,233.76 L487.74,233.73 L489.03,233.71 L490.32,233.68 L491.61,233.66 L492.89,233.63 L494.18,233.61 L495.47,233.59 L496.75,233.56 L498.04,233.54 L499.33,233.51 L500.61,233.49 L501.90,233.47 L503.19,233.44 L504.47,233.42 L505.76,233.39 L507.04,233.37 L508.33,233.35 L509.62,233.32 L510.90,233.30 L512.19,233.28 L513.47,233.26 L514.76,233.23 L516.04,233.21 L517.33,233.19 L518.61,233.17 L519.89,233.14 L521.18,233.12 L522.46,233.10 L523.75,233.08 L525.03,233.06 L526.31,233.03 L527.60,233.01 L528.88,232.99 L530.16,232.97 L531.45,232.95" stroke="#0000ff" stroke-dasharray="20.8 15.63" stroke-dashoffset="0.75"/>
</g>
<text transform="translate(0.45,10.6) scale(1,1.02)" dx="0 0.05 0.05 0.05 0 0.35 -0.3 0.2 0.85 -0.8">Mass (GeV)</text>
<text transform="translate(31.50,351.00) scale(1,1.07)" text-anchor="middle">1.0</text><text transform="translate(131.20,351.00) scale(1,1.07)" text-anchor="middle">1.2</text><text transform="translate(230.90,351.00) scale(1,1.07)" text-anchor="middle">1.4</text><text transform="translate(330.60,351.00) scale(1,1.07)" text-anchor="middle">1.6</text><text transform="translate(430.30,351.00) scale(1,1.07)" text-anchor="middle">1.8</text><text transform="translate(530.00,351.00) scale(1,1.07)" text-anchor="middle">2.0</text>
<text transform="translate(29.80,270.94) scale(1,1.07)" text-anchor="end">200</text><text transform="translate(29.80,199.28) scale(1,1.07)" text-anchor="end">400</text><text transform="translate(29.80,127.62) scale(1,1.07)" text-anchor="end">600</text><text transform="translate(29.80,55.96) scale(1,1.07)" text-anchor="end">800</text>
<text x="543.8" y="342.7" font-size="13.6">Δ</text>
<text transform="translate(181.8,284.65) scale(0.92,1)" font-style="italic" font-size="13.2" stroke="#000" stroke-width="0.2">H</text><text x="192.0" y="279.35" font-size="8.6" stroke="#000" stroke-width="0.12">(0)</text><text transform="translate(295.2,157.3) scale(0.92,1)" font-style="italic" font-size="12.8" stroke="#000" stroke-width="0.2">A</text><text x="302.9" y="152.30" font-size="8.6" stroke="#000" stroke-width="0.12">(0)</text><text transform="translate(418.2,230.85) scale(0.92,1)" font-style="italic" font-size="13.2" stroke="#000" stroke-width="0.2">h</text><text x="425.0" y="226.10" font-size="8.6" stroke="#000" stroke-width="0.12">(0)</text><text transform="translate(396.8,251.5) scale(0.92,1)" font-style="italic" font-size="13.2" stroke="#000" stroke-width="0.2">H</text><text x="407.0" y="246.80" font-size="8.6" stroke="#000" stroke-width="0.12" textLength="11.3" lengthAdjust="spacing">(+)</text><text transform="translate(438.3,251.5) scale(0.92,1)" font-style="italic" font-size="13.2" stroke="#000" stroke-width="0.2">H</text><text x="448.2" y="246.80" font-size="8.6" stroke="#000" stroke-width="0.12" textLength="10.9" lengthAdjust="spacing">(−)</text>
</svg>
</body></html>
